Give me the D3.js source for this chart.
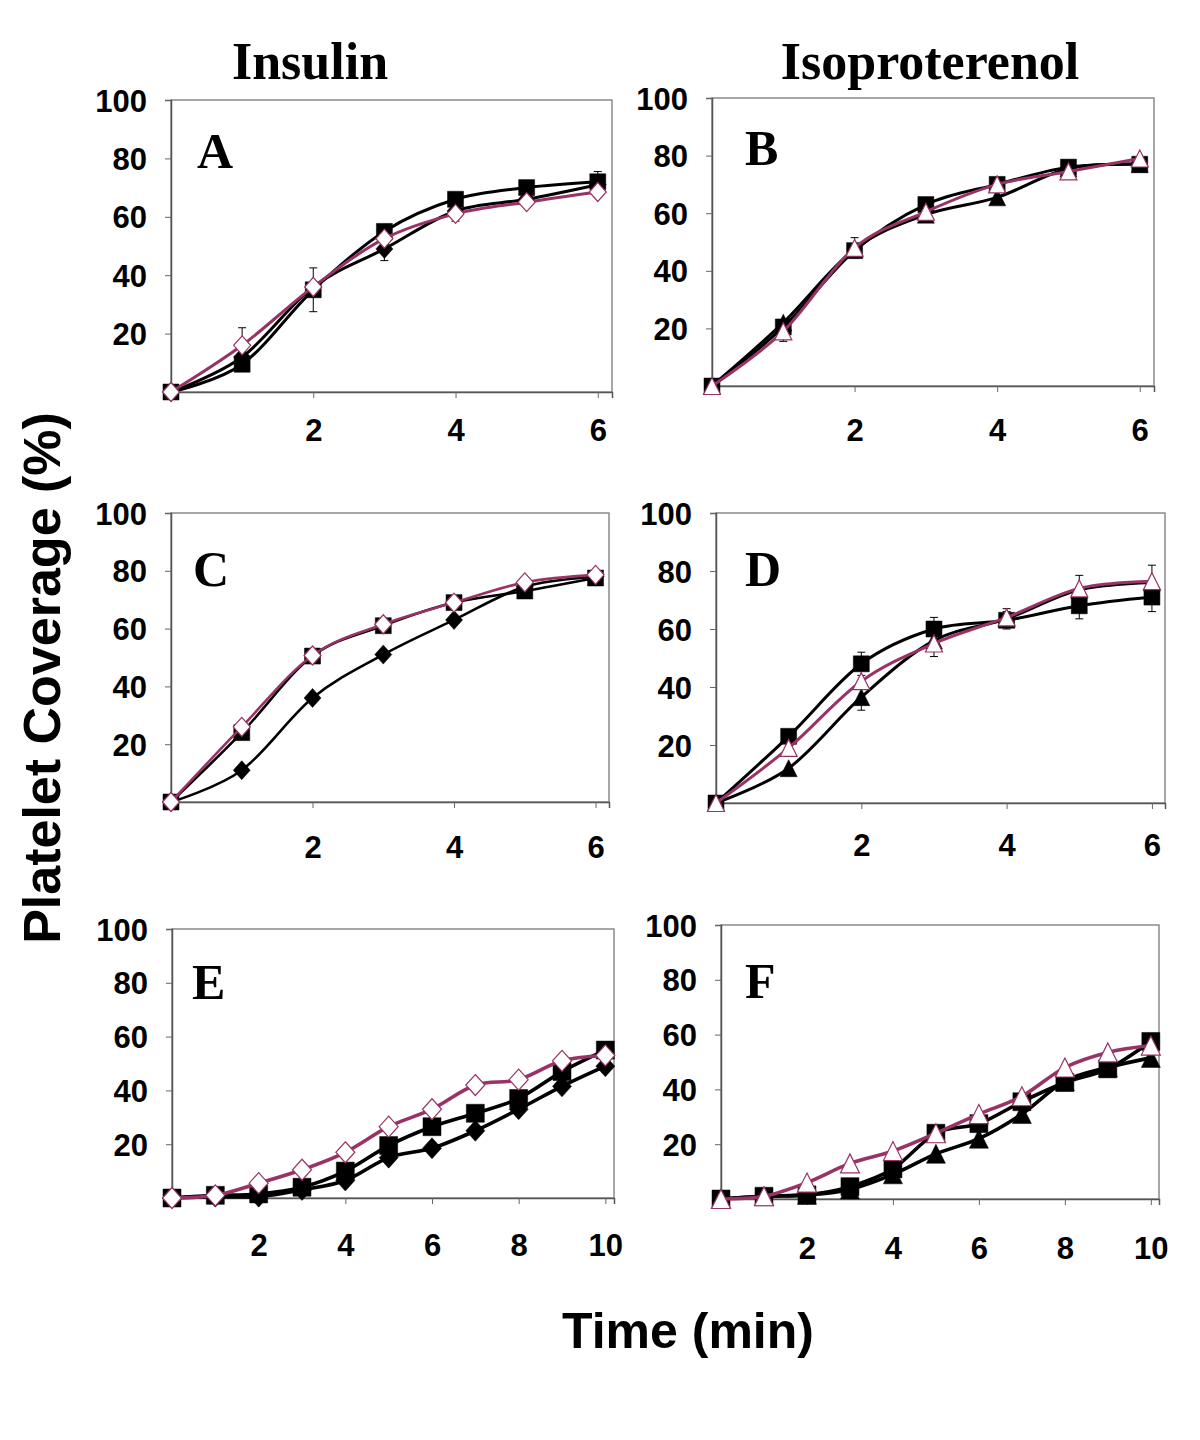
<!DOCTYPE html>
<html>
<head>
<meta charset="utf-8">
<script src="https://cdn.jsdelivr.net/npm/d3@7"></script>
<style>
  html, body { margin: 0; padding: 0; background: #fff; }
  svg { display: block; }
</style>
</head>
<body>
<svg id="chart" width="1200" height="1440"></svg>
<script>
// ---------- DATA ----------
const timesShort = [0, 1, 2, 3, 4, 5, 6];
const timesLong = [0, 1, 2, 3, 4, 5, 6, 7, 8, 9, 10];
const yTickValues = [20, 40, 60, 80, 100];
const xTicksShort = [2, 4, 6];
const xTicksLong = [2, 4, 6, 8, 10];
const columnTitles = ["Insulin", "Isoproterenol"];
const panelLetters = ["A", "B", "C", "D", "E", "F"];
const yAxisTitle = "Platelet Coverage (%)";
const xAxisTitle = "Time (min)";

// Panel A (Insulin)
const aSquare = [0, 9.5, 35, 55, 66, 70, 72];
const aFilled = [0, 12, 36, 49, 62, 66, 71];
const aOpen = [0, 16, 36, 52.5, 61, 65, 68.5];
const aSquareErr = [0, 0, 7.5, 0, 0, 0, 3.5];
const aFilledErr = [0, 0, 0, 4, 0, 0, 0];
const aOpenErr = [0, 6, 0, 0, 2.5, 0, 0];

// Panel B (Isoproterenol)
const bSquare = [0, 20.5, 47, 63, 70, 76, 77];
const bFilled = [0, 22, 47.5, 59.5, 65.5, 75.5, 77];
const bOpen = [0, 19, 48, 60.5, 70, 74.5, 79];
const bSquareErr = [0, 0, 0, 0, 0, 0, 0];
const bFilledErr = [0, 0, 0, 0, 0, 0, 0];
const bOpenErr = [0, 3.5, 3.5, 0, 0, 0, 0];

// Panel C (Insulin)
const cSquare = [0, 24, 50.5, 61, 69, 73, 77.5];
const cFilled = [0, 11, 36, 51, 63, 74.5, 78];
const cOpen = [0, 26, 50.7, 61.5, 69, 76, 78.6];
const cSquareErr = [0, 0, 0, 0, 0, 0, 0];
const cFilledErr = [0, 0, 0, 0, 0, 0, 0];
const cOpenErr = [0, 0, 0, 0, 0, 0, 0];

// Panel D (Isoproterenol)
const dSquare = [0, 23, 48, 60, 63, 68, 71];
const dFilled = [0, 12, 36.5, 56, 63.5, 73.5, 76];
const dOpen = [0, 19, 42, 55, 64, 74, 76.5];
const dSquareErr = [0, 0, 4, 4, 3, 4.5, 5];
const dFilledErr = [0, 0, 4.5, 0, 0, 0, 0];
const dOpenErr = [0, 0, 0, 4.5, 3, 4.5, 5.5];

// Panel E (Insulin)
const eSquare = [0, 1, 1.5, 4, 10, 19.5, 26.5, 31.5, 37, 47, 55];
const eFilled = [0, 0.5, 0.5, 3, 6.5, 15, 18.5, 25, 33, 41.5, 49];
const eOpen = [0, 1, 5.5, 10.5, 17, 26.5, 33, 42, 44, 51, 53];
const eSquareErr = [0, 0, 0, 0, 0, 0, 0, 0, 0, 0, 0];
const eFilledErr = [0, 0, 0, 0, 0, 0, 0, 0, 0, 0, 0];
const eOpenErr = [0, 0, 0, 0, 0, 0, 0, 0, 0, 0, 0];

// Panel F (Isoproterenol)
const fSquare = [0, 1, 1.5, 4.5, 11, 24, 27.5, 35.5, 42.5, 47.5, 57.5];
const fFilled = [0, 1, 1.5, 3.5, 9, 16.5, 22, 31, 43, 48, 51.5];
const fOpen = [0, 1, 6, 13, 17.5, 24, 31, 37.5, 48, 53.5, 56];
const fSquareErr = [0, 0, 0, 0, 0, 0, 0, 0, 0, 0, 0];
const fFilledErr = [0, 0, 0, 0, 0, 0, 0, 0, 0, 0, 0];
const fOpenErr = [0, 0, 0, 0, 0, 0, 0, 0, 0, 0, 0];

// ---------- LAYOUT ----------
const MAGENTA = "#993366";
const panels = [
  {letter: panelLetters[0], kind: "diamond", t: timesShort, xMax: 6.2, xTicks: xTicksShort,
   box: [171, 100, 612, 392], xLabelGap: 38, letterPos: [197, 168], ms: 8, lw: 3,
   sq: aSquare, fi: aFilled, op: aOpen, sqE: aSquareErr, fiE: aFilledErr, opE: aOpenErr},
  {letter: panelLetters[1], kind: "triangle", t: timesShort, xMax: 6.2, xTicks: xTicksShort,
   box: [712, 98, 1154, 386], xLabelGap: 44, letterPos: [745, 165], ms: 8, lw: 3,
   sq: bSquare, fi: bFilled, op: bOpen, sqE: bSquareErr, fiE: bFilledErr, opE: bOpenErr},
  {letter: panelLetters[2], kind: "diamond", t: timesShort, xMax: 6.19, xTicks: xTicksShort,
   box: [171, 513, 609, 802], xLabelGap: 45, letterPos: [193, 586], ms: 8, lw: 2.6,
   sq: cSquare, fi: cFilled, op: cOpen, sqE: cSquareErr, fiE: cFilledErr, opE: cOpenErr},
  {letter: panelLetters[3], kind: "triangle", t: timesShort, xMax: 6.18, xTicks: xTicksShort,
   box: [716, 513, 1165, 803], xLabelGap: 42, letterPos: [745, 586], ms: 8, lw: 3,
   sq: dSquare, fi: dFilled, op: dOpen, sqE: dSquareErr, fiE: dFilledErr, opE: dOpenErr},
  {letter: panelLetters[4], kind: "diamond", t: timesLong, xMax: 10.2, xTicks: xTicksLong,
   box: [172, 929, 614, 1198], xLabelGap: 47, letterPos: [192, 999], ms: 9, lw: 3.6,
   sq: eSquare, fi: eFilled, op: eOpen, sqE: eSquareErr, fiE: eFilledErr, opE: eOpenErr},
  {letter: panelLetters[5], kind: "triangle", t: timesLong, xMax: 10.19, xTicks: xTicksLong,
   box: [721, 925, 1159, 1199], xLabelGap: 49, letterPos: [745, 998], ms: 9, lw: 3.6,
   sq: fSquare, fi: fFilled, op: fOpen, sqE: fSquareErr, fiE: fFilledErr, opE: fOpenErr}
];

const svg = d3.select("#chart");
const SANS = "'Liberation Sans', Arial, sans-serif";
const SERIF = "'Liberation Serif', 'Times New Roman', serif";

// marker shapes
function squarePath(s) { return `M${-s},${-s}H${s}V${s}H${-s}Z`; }
function diamondPath(w, h) { return `M0,${-h}L${w},0L0,${h}L${-w},0Z`; }
function trianglePath(w, h) { return `M0,${-h}L${w},${h}L${-w},${h}Z`; }

panels.forEach(p => {
  const [x0, y0, x1, y1] = p.box;
  const x = d3.scaleLinear().domain([0, p.xMax]).range([x0, x1]);
  const y = d3.scaleLinear().domain([0, 100]).range([y1, y0]);
  const g = svg.append("g");

  // frame
  g.append("rect").attr("x", x0).attr("y", y0).attr("width", x1 - x0).attr("height", y1 - y0)
    .attr("fill", "none").attr("stroke", "#8a8a8a").attr("stroke-width", 1.5);

  // y axis
  const ya = g.append("g").attr("transform", `translate(${x0},0)`)
    .call(d3.axisLeft(y).tickValues(yTickValues).tickSize(6).tickPadding(18));
  ya.select(".domain").attr("stroke", "#555").attr("stroke-width", 1.5);
  ya.selectAll(".tick line").attr("stroke", "#666");
  ya.selectAll("text").attr("font-family", SANS).attr("font-weight", "bold")
    .attr("font-size", 31).attr("fill", "#000").attr("dy", "0.36em");

  // x axis
  const xa = g.append("g").attr("transform", `translate(0,${y1})`)
    .call(d3.axisBottom(x).tickValues(p.xTicks).tickSize(6).tickPadding(p.xLabelGap - 17)
      .tickFormat(d3.format("d")));
  xa.select(".domain").attr("stroke", "#555").attr("stroke-width", 1.5);
  xa.selectAll(".tick line").attr("stroke", "#666");
  xa.selectAll("text").attr("font-family", SANS).attr("font-weight", "bold")
    .attr("font-size", 31).attr("fill", "#000");

  // panel letter
  g.append("text").attr("x", p.letterPos[0]).attr("y", p.letterPos[1])
    .attr("font-family", SERIF).attr("font-weight", "bold").attr("font-size", 50)
    .attr("fill", "#000").text(p.letter);

  const line = d3.line().x(d => x(d[0])).y(d => y(d[1])).curve(d3.curveCardinal.tension(0));

  const series = [
    {vals: p.sq, err: p.sqE, color: "#000", marker: "square"},
    {vals: p.fi, err: p.fiE, color: "#000", marker: p.kind + "-filled"},
    {vals: p.op, err: p.opE, color: MAGENTA, marker: p.kind + "-open"}
  ];

  const m = p.ms;
  series.forEach(s => {
    const pts = p.t.map((t, i) => [t, s.vals[i], s.err[i]]);
    // error bars
    const eb = g.append("g").attr("stroke", "#000").attr("stroke-width", 1);
    pts.filter(d => d[2] > 0).forEach(d => {
      const cx = x(d[0]);
      eb.append("line").attr("x1", cx).attr("x2", cx).attr("y1", y(d[1] - d[2])).attr("y2", y(d[1] + d[2]));
      [d[1] - d[2], d[1] + d[2]].forEach(v => {
        eb.append("line").attr("x1", cx - 4).attr("x2", cx + 4).attr("y1", y(v)).attr("y2", y(v));
      });
    });
    // line
    g.append("path").datum(pts).attr("d", line).attr("fill", "none")
      .attr("stroke", s.color).attr("stroke-width", p.lw).attr("stroke-linejoin", "round");
    // markers
    let path, fill, stroke, sw;
    if (s.marker === "square") { path = squarePath(m); fill = "#000"; stroke = "#000"; sw = 0.5; }
    else if (s.marker === "diamond-filled") { path = diamondPath(m + 0.5, m + 1.5); fill = "#000"; stroke = "#000"; sw = 0.5; }
    else if (s.marker === "diamond-open") { path = diamondPath(m + 0.5, m + 1.5); fill = "#fff"; stroke = MAGENTA; sw = 1.2; }
    else if (s.marker === "triangle-filled") { path = trianglePath(m + 0.5, m + 0.5); fill = "#000"; stroke = "#000"; sw = 0.5; }
    else { path = trianglePath(m + 0.5, m + 0.5); fill = "#fff"; stroke = MAGENTA; sw = 1.2; }
    g.append("g").selectAll("path").data(pts).join("path")
      .attr("transform", d => `translate(${x(d[0])},${y(d[1])})`)
      .attr("d", path).attr("fill", fill).attr("stroke", stroke).attr("stroke-width", sw);
  });
});

// column titles
svg.append("text").attr("x", 310).attr("y", 79).attr("text-anchor", "middle")
  .attr("font-family", SERIF).attr("font-weight", "bold").attr("font-size", 52).text(columnTitles[0]);
svg.append("text").attr("x", 930).attr("y", 79).attr("text-anchor", "middle")
  .attr("font-family", SERIF).attr("font-weight", "bold").attr("font-size", 52).text(columnTitles[1]);

// axis titles
svg.append("text").attr("transform", "translate(60,678) rotate(-90)").attr("text-anchor", "middle")
  .attr("font-family", SANS).attr("font-weight", "bold").attr("font-size", 52).text(yAxisTitle);
svg.append("text").attr("x", 688).attr("y", 1348).attr("text-anchor", "middle")
  .attr("font-family", SANS).attr("font-weight", "bold").attr("font-size", 50).text(xAxisTitle);
</script>
</body>
</html>
